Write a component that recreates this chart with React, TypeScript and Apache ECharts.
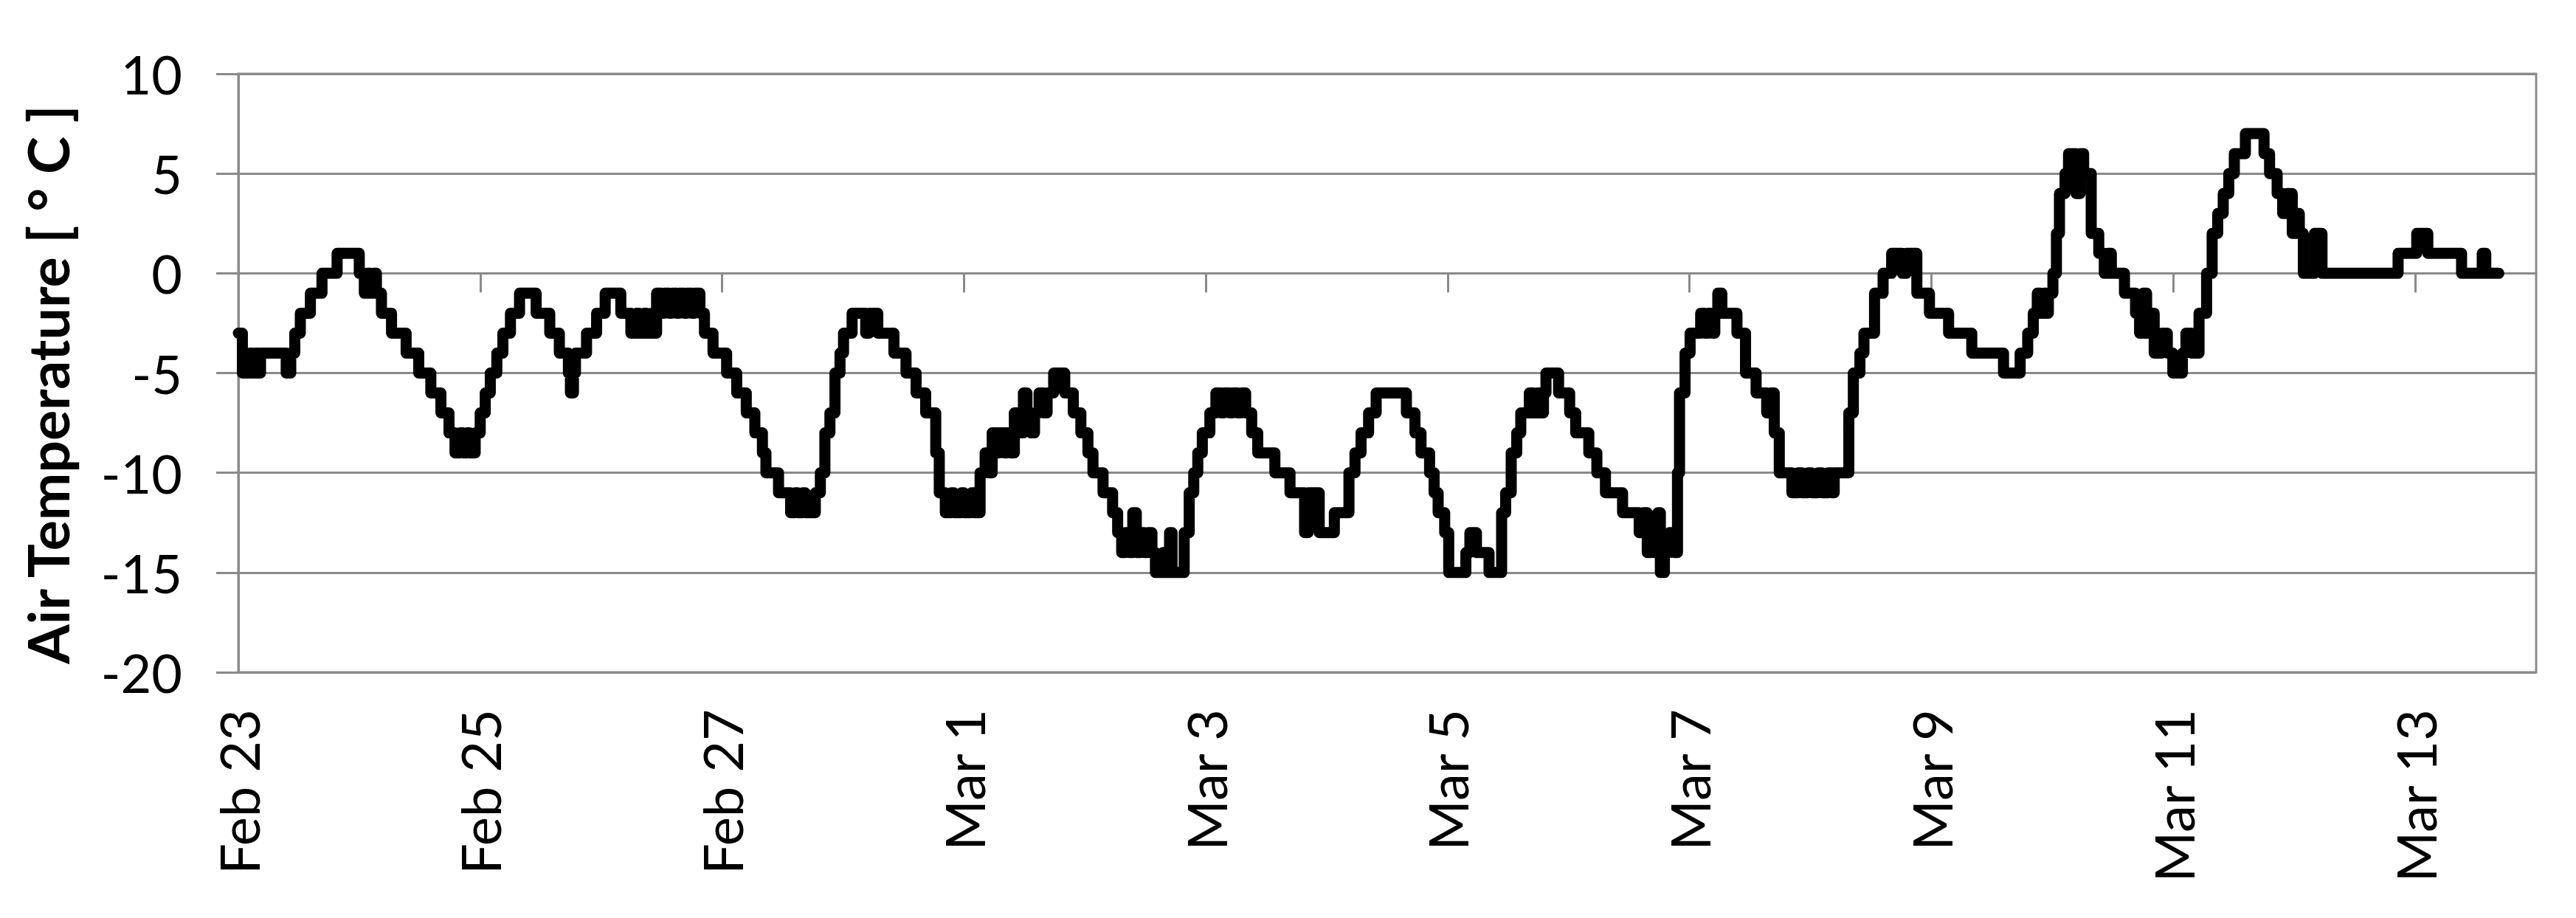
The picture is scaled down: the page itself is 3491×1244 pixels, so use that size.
import React, { useEffect, useRef } from "react";
import * as echarts from "echarts";

// x-axis tick labels (every 2 days from Feb 23 00:00)
const xTickLabels = ["Feb 23", "Feb 25", "Feb 27", "Mar 1", "Mar 3", "Mar 5", "Mar 7", "Mar 9", "Mar 11", "Mar 13"];
const yTicks = [-20, -15, -10, -5, 0, 5, 10];
const yAxisTitle = "Air Temperature [ ° C ]";

// hours since Feb 23 00:00 at which the reading changes
const hours = [
  0, 0.8, 2.3, 2.8, 3.4, 3.9, 4.4, 9.5, 10.4, 11.2, 12.3, 14.3, 16.6, 19.6, 24.0, 25.0, 25.6, 26.2, 26.8, 27.4,
  28.4, 30.4, 33.3, 35.8, 38.2, 40.2, 41.8, 43.0, 44.0, 44.6, 45.4, 45.9, 47.0, 48.0, 49.0, 50.0, 51.3, 52.5, 54.0, 55.8,
  59.1, 61.8, 63.7, 65.5, 65.9, 66.5, 66.9, 69.1, 71.1, 72.8, 75.9, 77.9, 79, 79.5, 80.5, 81, 82, 82.5, 83, 84,
  84.5, 85.5, 86, 87, 87.5, 88.5, 89, 90, 90.5, 91.6, 92.5, 94.2, 96.9, 98.9, 100.8, 102.5, 104, 104.7, 107.2, 109.6,
  110.5, 111, 112, 112.5, 114.5, 115.5, 116.4, 117.4, 118.4, 119.4, 120.1, 121.8, 124.5, 125.2, 126.9, 130.1, 132.5, 134.5, 136.4, 138.4,
  139.1, 140.3, 141.5, 142, 143.5, 144, 145.5, 146, 147.2, 148.2, 149, 149.6, 150.5, 151, 152, 152.5, 153.3, 154, 155, 155.8,
  156.5, 157.3, 158, 158.9, 159.8, 160.5, 161.8, 164, 165.7, 167.2, 168.6, 169.6, 171.6, 173.5, 174.5, 175.3, 176, 176.8, 177.5, 178.2,
  179, 179.8, 180.5, 181.3, 182, 183.5, 184, 184.8, 185.3, 187.7, 188.7, 189.6, 190.4, 191.3, 192.8, 194, 195, 195.6, 196.7, 197.3,
  198.3, 199, 199.9, 201.1, 202.3, 205.7, 208.7, 211.6, 212.3, 214.5, 217.5, 220.4, 221.6, 222.8, 224.3, 225.8, 231.8, 233.5, 234.7, 236.4,
  237.3, 238.1, 239.4, 240.2, 243.6, 244.4, 245.7, 248.2, 250.7, 251.5, 252.6, 253.7, 254.5, 256.2, 257, 257.7, 258.5, 259, 259.5, 262,
  264.2, 265.4, 268, 269.6, 271.3, 274.7, 278, 278.8, 279.6, 280.4, 281, 281.7, 282.2, 283, 284, 285, 285.6, 286, 287.1, 288.1,
  290.2, 291, 291.7, 292.5, 293, 293.6, 294.4, 297.4, 299.1, 301.2, 303.3, 304.1, 304.8, 305.8, 308.3, 309.5, 310.3, 311.5, 312.2, 313.5,
  314.3, 315.5, 316.2, 316.7, 319.6, 320.5, 321.8, 322.6, 324.7, 326.4, 328.1, 330.2, 331, 333.1, 335.6, 339.4, 344, 350.3, 353.6, 355.1,
  356.2, 357, 357.6, 358.3, 358.8, 359.2, 360.1, 360.8, 361.4, 362.5, 363.2, 364.7, 365.5, 366.2, 367.7, 369.2, 370.3, 371, 371.7, 374.3,
  376.5, 377.3, 378, 378.7, 379.5, 380.2, 381.7, 382.8, 383.9, 385.8, 386.5, 387.6, 389.1, 390.6, 391.7, 392.8, 393.9, 395, 396.1, 398.3,
  402, 403.1, 404.6, 405.7, 406.5, 407.6, 408.3, 409, 409.8, 412, 413.5, 428.6, 432.3, 434.5, 441.2, 445.3, 446, 448.6,
];

// air temperature [°C] from that hour on
const temps = [
  -3, -5, -4, -5, -4, -5, -4, -5, -4, -3, -2, -1, 0, 1, 0, -1, 0, -1, 0, -1,
  -2, -3, -4, -5, -6, -7, -8, -9, -8, -9, -8, -9, -8, -7, -6, -5, -4, -3, -2, -1,
  -2, -3, -4, -5, -6, -5, -4, -3, -2, -1, -2, -3, -2, -3, -2, -3, -2, -3, -1, -2,
  -1, -2, -1, -2, -1, -2, -1, -2, -1, -2, -3, -4, -5, -6, -7, -8, -9, -10, -11, -12,
  -11, -12, -11, -12, -11, -10, -8, -7, -5, -4, -3, -2, -3, -2, -3, -4, -5, -6, -7, -9,
  -11, -12, -11, -12, -11, -12, -11, -12, -10, -9, -10, -8, -9, -8, -9, -8, -9, -7, -8, -6,
  -7, -8, -7, -6, -7, -6, -5, -6, -7, -8, -9, -10, -11, -12, -13, -14, -13, -14, -12, -14,
  -13, -14, -13, -14, -15, -14, -15, -13, -15, -13, -11, -10, -9, -8, -7, -6, -7, -6, -7, -6,
  -7, -6, -7, -8, -9, -10, -11, -13, -11, -13, -12, -10, -9, -8, -7, -6, -7, -8, -9, -10,
  -11, -12, -13, -15, -14, -13, -14, -15, -12, -11, -9, -8, -7, -6, -7, -6, -7, -6, -5, -6,
  -7, -8, -9, -10, -11, -12, -13, -12, -14, -13, -14, -12, -15, -14, -13, -14, -10, -6, -4, -3,
  -2, -3, -2, -3, -2, -1, -2, -3, -5, -6, -7, -6, -8, -10, -11, -10, -11, -10, -11, -10,
  -11, -10, -11, -10, -7, -5, -4, -3, -1, 0, 1, 0, 1, -1, -2, -3, -4, -5, -4, -3,
  -2, -1, -2, -1, -2, -1, 0, 2, 4, 5, 6, 4, 6, 5, 2, 1, 0, 1, 0, -1,
  -2, -3, -1, -3, -2, -4, -3, -4, -5, -4, -3, -4, -2, 0, 2, 3, 4, 5, 6, 7,
  6, 5, 4, 3, 4, 2, 3, 2, 0, 2, 0, 1, 2, 1, 0, 1, 0, 0,
];

const HOURS_PER_TICK = 48;
const X_MAX_HOURS = 456;

const GRAY = "#8a8a8a";
const FONT = "Lato, 'Noto Sans', sans-serif";

export default function App() {
  const ref = useRef<HTMLDivElement>(null);

  useEffect(() => {
    document.body.style.margin = "0";
    if (!ref.current) return;
    const chart = echarts.init(ref.current, undefined, { renderer: "svg" });
    const tickHours = xTickLabels.map((_, i) => i * HOURS_PER_TICK);
    const data = hours.map((h, i) => [h, temps[i]]);

    chart.setOption({
      animation: false,
      backgroundColor: "#ffffff",
      grid: {
        left: 323,
        right: 54,
        top: 100,
        bottom: 333,
        show: true,
        borderColor: GRAY,
        borderWidth: 3,
        backgroundColor: "transparent",
      },
      xAxis: {
        type: "value",
        min: 0,
        max: X_MAX_HOURS,
        interval: HOURS_PER_TICK,
        splitLine: { show: false },
        axisLine: { show: true, lineStyle: { color: GRAY, width: 3 } },
        axisTick: {
          show: true,
          length: 26,
          customValues: tickHours,
          lineStyle: { color: GRAY, width: 3 },
        },
        axisLabel: {
          customValues: tickHours,
          rotate: 90,
          margin: 50,
          fontSize: 74,
          fontFamily: FONT,
          color: "#000",
          formatter: (v: number) => xTickLabels[Math.round(v / HOURS_PER_TICK)] ?? "",
        },
      },
      yAxis: {
        type: "value",
        min: yTicks[0],
        max: yTicks[yTicks.length - 1],
        interval: 5,
        axisLine: { show: true, lineStyle: { color: GRAY, width: 3 } },
        axisTick: { show: true, length: 30, lineStyle: { color: GRAY, width: 3 } },
        splitLine: { show: true, lineStyle: { color: GRAY, width: 3 } },
        axisLabel: {
          margin: 76,
          fontSize: 72,
          fontFamily: FONT,
          color: "#000",
        },
      },
      graphic: [
        {
          type: "text",
          x: 64,
          y: 521,
          rotation: Math.PI / 2,
          style: {
            text: yAxisTitle,
            font: `bold 77px ${FONT}`,
            fill: "#000",
            textAlign: "center",
            textVerticalAlign: "middle",
          },
        },
      ],
      series: [
        {
          type: "line",
          data,
          step: "end",
          showSymbol: false,
          symbol: "none",
          lineStyle: { color: "#000", width: 15, join: "round", cap: "round" },
        },
      ],
    });

    return () => chart.dispose();
  }, []);

  return <div ref={ref} style={{ width: 3491, height: 1244 }} />;
}
